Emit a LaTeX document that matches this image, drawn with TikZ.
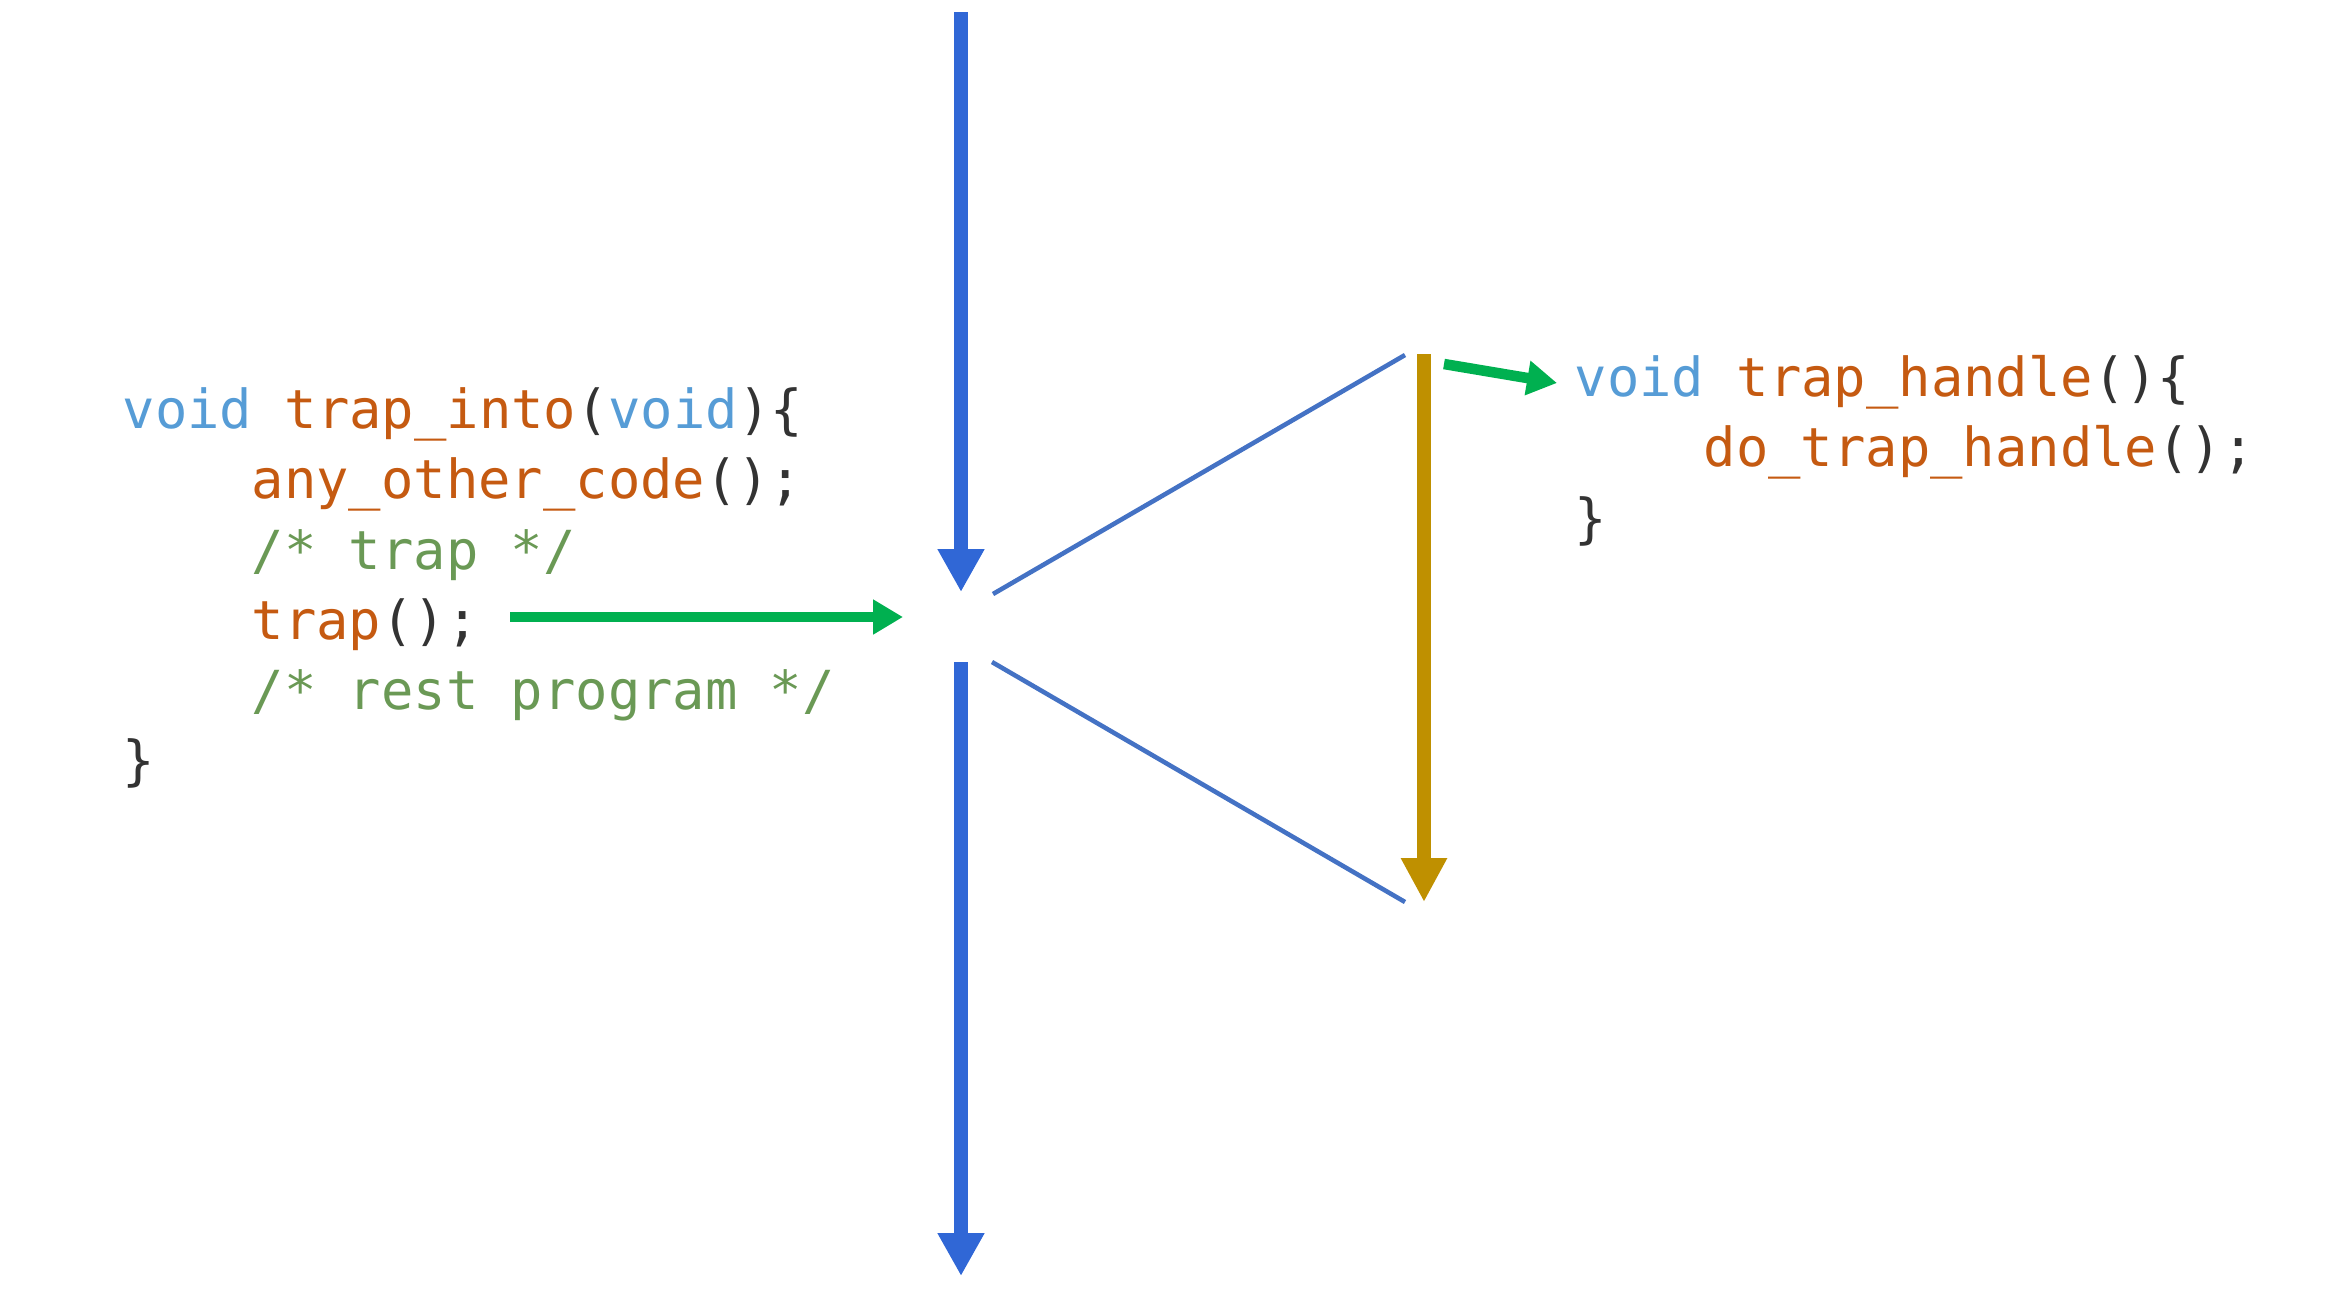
\documentclass[tikz,border=0pt]{standalone}
\usepackage{fontspec}
\usetikzlibrary{arrows.meta,positioning}
\newfontfamily\codefont{DejaVu Sans Mono}
\definecolor{flowblue}{HTML}{3067D6}
\definecolor{edgeblue}{HTML}{4472C4}
\definecolor{trapgreen}{HTML}{00B050}
\definecolor{handlegold}{HTML}{BF9000}
\definecolor{kwblue}{HTML}{569CD6}
\definecolor{fnorange}{HTML}{C55A11}
\definecolor{cmtgreen}{HTML}{6A9955}
\definecolor{punct}{HTML}{333333}
\newcommand{\kw}[1]{\textcolor{kwblue}{#1}}
\newcommand{\fn}[1]{\textcolor{fnorange}{#1}}
\newcommand{\cmt}[1]{\textcolor{cmtgreen}{#1}}
\newcommand{\pn}[1]{\textcolor{punct}{#1}}
\tikzset{
  code/.style={anchor=base west, inner sep=0pt, font=\codefont\fontsize{15.3}{18}\selectfont},
  flow/.style={draw=flowblue, line width=4.1pt, -{Triangle[width=12.5pt,length=12.2pt]}},
  handle/.style={draw=handlegold, line width=4.1pt, -{Triangle[width=12.3pt,length=12.5pt]}},
  jump/.style={draw=trapgreen, line width=3pt, -{Triangle[width=9.4pt,length=8.5pt]}},
  edge/.style={draw=edgeblue, line width=1.3pt}
}

\begin{document}
\begin{tikzpicture}[x=0.01cm, y=-0.01cm]
\useasboundingbox (0,0) rectangle (2333,1308);
% caller
\node[code] (into1) at (122,428) {\kw{void} \fn{trap\_into}\pn{(}\kw{void}\pn{)\{}};
\node[code] (into2) at (251,498) {\fn{any\_other\_code}\pn{();}};
\node[code] (into3) at (251,569) {\cmt{/* trap */}};
\node[code] (into4) at (251,639) {\fn{trap}\pn{();}};
\node[code] (into5) at (251,709) {\cmt{/* rest program */}};
\node[code] (into6) at (122,779) {\pn{\}}};
% handler
\node[code] (hdl1) at (1574,396) {\kw{void} \fn{trap\_handle}\pn{()\{}};
\node[code] (hdl2) at (1703,466) {\fn{do\_trap\_handle}\pn{();}};
\node[code] (hdl3) at (1574,537) {\pn{\}}};

\coordinate (top) at (961,12);
\coordinate (gapin) at (961,592);
\coordinate (gapout) at (961,662);
\coordinate (bottom) at (961,1276);
\coordinate (callout) at (510,617);
\coordinate (callin) at (903,617);
\coordinate (upl) at (993,594);
\coordinate (upr) at (1405,355);
\coordinate (lowl) at (992,662);
\coordinate (lowr) at (1405,902);
\coordinate (htop) at (1424,354);
\coordinate (hbot) at (1424,902);
\coordinate (hjump) at (1444,364);
\coordinate (hentry) at (1557,383);

\draw[flow] (top) -- (gapin);
\draw[flow] (gapout) -- (bottom);
\draw[jump] (callout) -- (callin);
\draw[edge] (upl) -- (upr);
\draw[edge] (lowl) -- (lowr);
\draw[handle] (htop) -- (hbot);
\draw[jump] (hjump) -- (hentry);
\end{tikzpicture}
\end{document}
